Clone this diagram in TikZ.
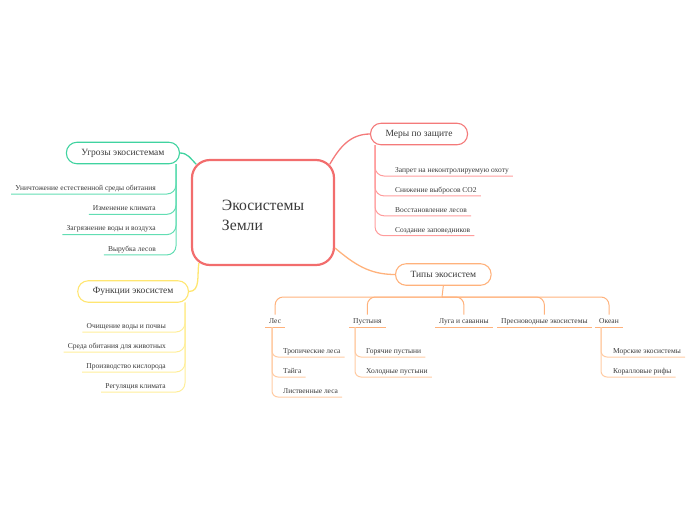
\documentclass[tikz,border=0pt]{standalone}
\usepackage{fontspec}
\setmainfont{Liberation Serif}
\usetikzlibrary{calc}

\definecolor{txtgray}{HTML}{3A3A3A}
\definecolor{hubred}{HTML}{F26D6D}
\definecolor{thrgreen}{HTML}{40D3A0}
\definecolor{thrleaf}{HTML}{62DDB3}
\definecolor{funyellow}{HTML}{FFE672}
\definecolor{funleaf}{HTML}{FFEE9A}
\definecolor{prored}{HTML}{F47A7A}
\definecolor{proleaf}{HTML}{FF9C9C}
\definecolor{typorange}{HTML}{FFB27C}
\definecolor{typleaf}{HTML}{FFCBA3}

\tikzset{
  pill/.style={draw=#1, line width=1.1pt, rounded corners=10.5pt, fill=white,
    minimum height=21.5pt, inner xsep=15pt, text=txtgray,
    font=\fontsize{9.5}{11}\selectfont},
  leaf/.style={inner xsep=4pt, inner ysep=3.5pt, text depth=0pt, text=txtgray,
    font=\fontsize{7.5}{9}\selectfont},
  link/.style={draw=#1, line width=1.3pt},
  twig/.style={draw=#1, line width=1pt, rounded corners=9pt},
}

\begin{document}
\begin{tikzpicture}[x=1pt,y=1pt]
    \useasboundingbox (0,0) rectangle (697,-520);

    % Central topic
    \node[draw=hubred, line width=2.2pt, rounded corners=18pt, minimum width=142pt,
      minimum height=105pt, align=left, text=txtgray, text height=38pt, text depth=3pt,
      font=\fontsize{15.7}{20}\selectfont] (hub) at (263,-212.5) {Экосистемы\\Земли};

    % Main topics
    \node[pill=thrgreen, anchor=east] (threat) at (180,-153) {Угрозы экосистемам};
    \node[pill=funyellow, anchor=east] (func) at (189,-291.5) {Функции экосистем};
    \node[pill=prored, anchor=west] (protect) at (370,-134) {Меры по защите};
    \node[pill=typorange, anchor=west] (types) at (395,-274.5) {Типы экосистем};

    % Links from the centre
    \draw[link=thrgreen] (threat.east) to[out=0,in=135] ($(hub.north west)+(5.3,-5.3)$);
    \draw[link=funyellow] (func.east) to[out=0,in=-100] ($(hub.south west)+(8,3)$);
    \draw[link=prored] ($(hub.north east)+(-5.3,-5.3)$) to[out=60,in=180] (protect.west);
    \draw[link=typorange] ($(hub.south east)+(0,18)$) to[out=-40,in=180] (types.west);

    % Threats
    \coordinate (gt) at (176,-164);
    \foreach \t [count=\i] in {Уничтожение естественной среды обитания,
        Изменение климата, Загрязнение воды и воздуха, Вырубка лесов}
      \node[leaf, anchor=south east] (g\i) at (160,{-194-20.3*(\i-1)}) {\t};
    \foreach \i in {1,...,4}
      \draw[twig=thrleaf] (g\i.south west) -| (gt);

    % Functions
    \coordinate (ft) at (185,-302.5);
    \foreach \t [count=\i] in {Очищение воды и почвы, Среда обитания для животных,
        Производство кислорода, Регуляция климата}
      \node[leaf, anchor=south east] (f\i) at (170,{-332-20*(\i-1)}) {\t};
    \foreach \i in {1,...,4}
      \draw[twig=funleaf] (f\i.south west) -| (ft);

    % Protection
    \coordinate (pt) at (375,-145);
    \foreach \t [count=\i] in {Запрет на неконтролируемую охоту, Снижение выбросов CO2,
        Восстановление лесов, Создание заповедников}
      \node[leaf, anchor=south west] (p\i) at (391,{-176-19.9*(\i-1)}) {\t};
    \foreach \i in {1,...,4}
      \draw[twig=proleaf] (pt) |- (p\i.south east);

    % Types
    \coordinate (tj) at (442,-297);
    \draw[twig=typorange] (types.south) -- (tj);
    \node[leaf, anchor=south west] (forest) at (265,-327) {Лес};
    \node[leaf, anchor=south west] (desert) at (349,-327) {Пустыня};
    \node[leaf, anchor=south west] (meadow) at (435,-327) {Луга и саванны};
    \node[leaf, anchor=south west] (fresh) at (497,-327) {Пресноводные экосистемы};
    \node[leaf, anchor=south west] (ocean) at (595,-327) {Океан};
    \foreach \c in {forest,desert,meadow,fresh,ocean} {
      \draw[twig=typorange, rounded corners=8pt] (tj) -| (\c.north);
      \draw[typorange, line width=1pt] (\c.south west) -- (\c.south east);
    }

    % Forest, desert and ocean kinds
    \coordinate (lt) at ($(forest.south west)+(7,0)$);
    \node[leaf, anchor=south west] (l1) at (279,-357) {Тропические леса};
    \node[leaf, anchor=south west] (l2) at (279,-377) {Тайга};
    \node[leaf, anchor=south west] (l3) at (279,-397) {Лиственные леса};
    \coordinate (dt) at ($(desert.south west)+(6,0)$);
    \node[leaf, anchor=south west] (d1) at (362,-357) {Горячие пустыни};
    \node[leaf, anchor=south west] (d2) at (362,-377) {Холодные пустыни};
    \coordinate (ot) at ($(ocean.south west)+(6,0)$);
    \node[leaf, anchor=south west] (o1) at (609,-357) {Морские экосистемы};
    \node[leaf, anchor=south west] (o2) at (609,-377) {Коралловые рифы};
    \foreach \s/\k in {lt/l1,lt/l2,lt/l3,dt/d1,dt/d2,ot/o1,ot/o2}
      \draw[twig=typleaf, rounded corners=6pt] (\s) |- (\k.south east);
\end{tikzpicture}
\end{document}
